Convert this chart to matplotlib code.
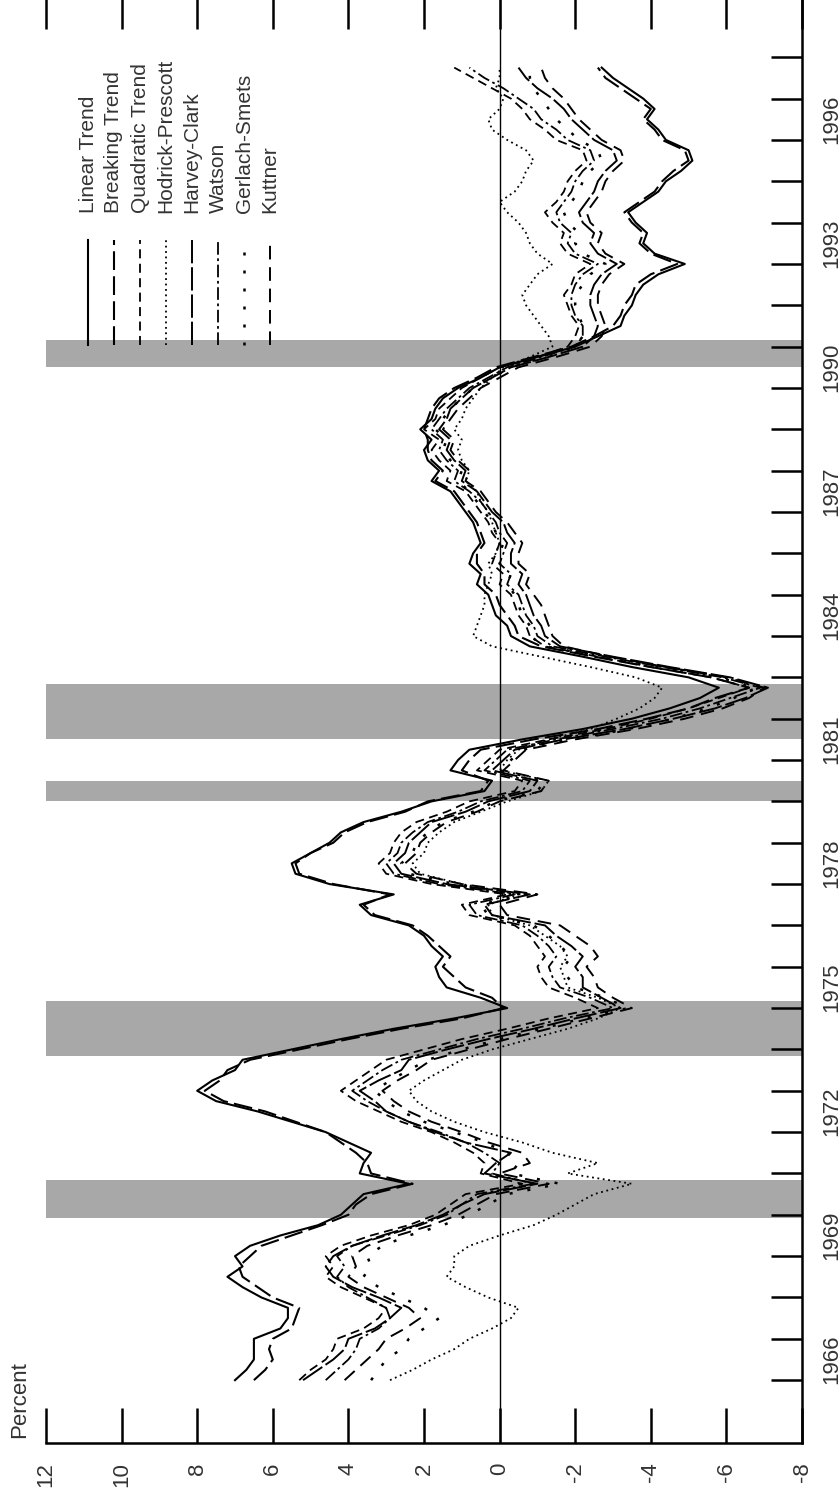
import matplotlib
matplotlib.use("Agg")
import matplotlib.pyplot as plt
from matplotlib.lines import Line2D
import numpy as np

plt.rcParams['font.family'] = ['Liberation Sans', 'DejaVu Sans']

dates = np.arange(1966.0, 1998.0, 0.25)

linear_trend = [
    7.0, 6.7, 6.5, 6.5,  6.5, 5.8, 5.6, 5.6,  6.3, 6.8, 7.2, 6.8,  7.0, 6.6, 5.8, 4.8,
    4.2, 3.9, 3.6, 2.4,  3.7, 3.6, 3.4, 4.0,  4.6, 5.5, 6.4, 7.5,  8.0, 7.6, 7.0, 6.8,
    5.5, 4.2, 2.8, 1.2,  -0.2, 0.5, 1.4, 1.6,  1.7, 1.5, 1.8, 2.0,  2.4, 3.4, 3.7, 2.8,
    4.5, 5.4, 5.5, 5.0,  4.5, 4.2, 3.6, 2.6,  1.8, 0.4, 0.2, 1.3,  1.1, 0.8, -0.6, -2.2,
    -3.5, -4.5, -5.3, -5.8,  -5.0, -3.5, -2.2, -0.8,  -0.3, -0.2, 0.1, 0.2,  0.3, 0.6, 0.5, 0.8,
    0.7, 0.5, 0.6, 0.7,  0.9, 1.1, 1.3, 1.8,  1.6, 1.9, 2.0, 1.8,  2.1, 1.8, 1.7, 1.5,
    1.1, 0.5, 0.0, -1.0,  -2.0, -2.6, -3.2, -3.3,  -3.5, -3.6, -3.8, -4.2,  -4.9, -4.1, -3.8, -3.9,
    -3.6, -3.4, -3.8, -4.2,  -4.4, -4.8, -5.1, -5.0,  -4.4, -4.2, -3.9, -4.1,  -3.8, -3.4, -3.0, -2.7]
breaking_trend = [
    6.5, 6.2, 6.0, 6.1,  6.0, 5.5, 5.4, 5.3,  6.0, 6.4, 6.8, 6.9,  6.6, 6.3, 5.5, 4.7,
    4.0, 3.8, 3.4, 2.3,  3.4, 3.5, 3.8, 4.2,  4.6, 5.4, 6.2, 7.3,  7.8, 7.4, 7.2, 6.6,
    5.3, 4.0, 2.6, 1.0,  -0.1, 0.2, 0.9, 1.2,  1.5, 1.3, 1.6, 1.9,  2.3, 3.3, 3.6, 2.9,
    4.4, 5.3, 5.4, 5.0,  4.4, 4.1, 3.5, 2.5,  1.9, 0.5, 0.3, 1.0,  0.8, 0.5, -0.9, -2.6,
    -3.9, -5.0, -5.7, -6.6,  -5.6, -4.0, -2.5, -1.1,  -0.5, -0.4, -0.2, 0.0,  0.1, 0.4, 0.4, 0.6,
    0.6, 0.4, 0.5, 0.6,  0.8, 1.0, 1.2, 1.7,  1.5, 1.8, 1.9, 1.9,  2.0, 1.9, 1.8, 1.6,
    1.2, 0.6, 0.1, -0.9,  -1.9, -2.5, -3.0, -3.2,  -3.3, -3.5, -3.6, -4.0,  -4.7, -4.0, -3.7, -3.8,
    -3.5, -3.3, -3.7, -4.1,  -4.3, -4.6, -5.0, -4.9,  -4.3, -4.1, -3.8, -4.0,  -3.6, -3.2, -2.8, -2.6]
quadratic_trend = [
    5.3, 5.0, 4.6, 4.4,  4.3, 3.6, 3.2, 3.0,  3.6, 4.2, 4.6, 4.4,  4.6, 4.2, 3.4, 2.4,
    1.7, 1.3, 0.9, -0.6,  0.5, 0.4, 0.7, 1.2,  1.8, 2.6, 3.2, 3.8,  4.2, 3.8, 3.4, 3.0,
    2.0, 1.0, -0.2, -1.3,  -2.6, -2.0, -1.3, -1.1,  -1.0, -1.2, -1.0, -0.8,  -0.4, 0.8, 1.0, -0.2,
    1.8, 3.0, 3.2, 2.9,  2.8, 2.6, 2.2, 1.4,  0.8, -0.4, -0.6, 0.6,  0.3, 0.0, -1.3, -2.8,
    -4.0, -5.0, -5.8, -6.6,  -5.6, -4.0, -2.6, -1.2,  -0.8, -0.7, -0.5, -0.4,  -0.3, 0.0, -0.1, 0.2,
    0.1, 0.0, 0.2, 0.3,  0.5, 0.7, 0.9, 1.4,  1.3, 1.6, 1.8, 1.6,  2.0, 1.7, 1.6, 1.3,
    1.0, 0.5, 0.0, -1.0,  -1.8, -2.0, -2.1, -1.9,  -1.8, -1.7, -1.9, -2.0,  -2.4, -1.8, -1.6, -1.7,
    -1.4, -1.2, -1.5, -1.7,  -1.8, -2.0, -2.3, -2.2,  -1.5, -1.2, -0.8, -0.6,  -0.3, 0.2, 0.7, 1.2]
hodrick_prescott = [
    2.9, 2.3, 1.8, 1.2,  0.8, 0.2, -0.3, -0.5,  0.3, 0.9, 1.4, 1.2,  1.2, 0.8, 0.0, -0.9,
    -1.5, -2.0, -2.5, -3.5,  -1.8, -2.6, -1.4, -0.6,  0.4, 1.2, 1.8, 2.2,  2.4, 2.0, 1.5, 1.0,
    0.2, -0.8, -1.8, -2.6,  -3.2, -2.6, -1.8, -1.7,  -1.6, -1.8, -1.6, -1.2,  -0.8, 0.2, 0.3, -0.5,
    1.0, 2.1, 2.3, 2.0,  1.9, 1.6, 1.2, 0.5,  -0.2, -1.1, -1.3, 0.0,  -0.2, -0.5, -1.3, -2.4,
    -3.1, -3.7, -4.1, -4.3,  -3.6, -2.4, -1.1, 0.2,  0.7, 0.6, 0.5, 0.4,  0.4, 0.3, 0.2, 0.3,
    0.1, 0.0, 0.1, 0.2,  0.3, 0.5, 0.6, 0.9,  0.8, 1.0, 1.1, 1.0,  1.2, 1.0, 0.9, 0.7,
    0.5, 0.2, -0.1, -0.8,  -1.4, -1.3, -1.1, -0.9,  -0.7, -0.6, -0.8, -1.0,  -1.4, -1.0, -0.8, -0.7,
    -0.5, -0.2, 0.0, -0.4,  -0.6, -0.7, -0.9, -0.7,  -0.2, 0.2, 0.3, 0.0,  -0.1, 0.1, 0.0, 0.0]
harvey_clark = [
    5.2, 4.8, 4.4, 4.1,  4.0, 3.3, 2.9, 2.6,  3.2, 3.9, 4.4, 4.6,  4.4, 3.9, 3.1, 2.2,
    1.5, 1.0, 0.4, -1.0,  0.4, 0.1, -0.3, 0.9,  1.7, 2.4, 3.0, 3.3,  3.7, 3.2, 2.6, 2.4,
    1.4, 0.3, -0.9, -2.0,  -3.2, -2.7, -2.2, -2.2,  -2.0, -2.2, -1.9, -1.5,  -1.2, 0.2, 0.4, -0.8,
    1.4, 2.6, 2.8, 2.5,  2.4, 2.1, 1.8, 0.9,  0.3, -0.8, -1.0, 0.2,  -0.1, -0.4, -1.7, -3.3,
    -4.6, -5.7, -6.5, -7.1,  -6.1, -4.5, -3.0, -1.6,  -1.2, -1.1, -0.9, -0.8,  -0.7, -0.5, -0.6, -0.3,
    -0.3, -0.4, -0.2, -0.1,  0.2, 0.4, 0.6, 1.0,  0.9, 1.2, 1.4, 1.3,  1.6, 1.4, 1.3, 1.0,
    0.7, 0.2, -0.3, -1.3,  -2.2, -2.5, -2.6, -2.5,  -2.4, -2.4, -2.5, -2.7,  -3.1, -2.6, -2.4, -2.5,
    -2.2, -2.1, -2.3, -2.5,  -2.6, -2.8, -3.1, -3.0,  -2.5, -2.2, -1.9, -1.7,  -1.4, -1.0, -0.7, -0.5]
watson = [
    4.6, 4.3, 4.0, 3.8,  3.7, 3.2, 2.9, 3.0,  3.5, 4.0, 4.3, 4.1,  4.3, 3.9, 3.0, 2.1,
    1.4, 1.0, 0.6, -0.9,  0.2, 0.0, 0.4, 0.9,  1.6, 2.4, 3.0, 3.5,  3.9, 3.5, 3.1, 2.6,
    1.6, 0.6, -0.6, -1.7,  -3.0, -2.4, -1.6, -1.4,  -1.3, -1.5, -1.3, -1.0,  -0.6, 0.6, 0.8, -0.4,
    1.6, 2.8, 3.0, 2.7,  2.6, 2.3, 1.9, 1.1,  0.5, -0.6, -0.8, 0.4,  0.1, -0.2, -1.5, -3.0,
    -4.3, -5.3, -6.1, -6.9,  -5.9, -4.3, -2.8, -1.4,  -1.0, -0.9, -0.7, -0.6,  -0.5, -0.2, -0.3, 0.0,
    -0.1, -0.2, 0.0, 0.1,  0.3, 0.5, 0.8, 1.2,  1.1, 1.4, 1.6, 1.5,  1.8, 1.6, 1.4, 1.1,
    0.8, 0.3, -0.2, -1.1,  -2.0, -2.2, -2.2, -2.0,  -1.9, -1.9, -2.0, -2.2,  -2.6, -2.0, -1.8, -1.9,
    -1.6, -1.5, -1.7, -1.9,  -2.0, -2.2, -2.5, -2.4,  -1.8, -1.5, -1.1, -0.9,  -0.5, -0.1, 0.4, 0.8]
gerlach_smets = [
    3.4, 3.2, 3.0, 2.6,  2.4, 2.0, 1.6, 2.0,  2.6, 3.2, 3.6, 3.4,  3.5, 3.1, 2.4, 1.5,
    0.8, 0.3, -0.2, -1.6,  -0.3, -0.5, -0.2, 0.4,  1.2, 2.0, 2.6, 3.0,  3.3, 2.9, 2.4, 1.9,
    1.0, 0.0, -1.1, -2.2,  -3.4, -2.8, -2.0, -1.8,  -1.7, -1.9, -1.6, -1.3,  -0.9, 0.3, 0.5, -0.6,
    1.2, 2.4, 2.6, 2.3,  2.2, 1.9, 1.5, 0.7,  0.1, -1.0, -1.2, 0.0,  -0.3, -0.6, -1.9, -3.4,
    -4.6, -5.5, -6.2, -6.8,  -5.8, -4.2, -2.7, -1.2,  -0.8, -0.8, -0.6, -0.5,  -0.4, -0.2, -0.3, 0.0,
    0.0, -0.1, 0.1, 0.2,  0.4, 0.6, 0.8, 1.1,  1.0, 1.3, 1.5, 1.4,  1.7, 1.5, 1.3, 1.0,
    0.7, 0.2, -0.3, -1.2,  -2.0, -2.2, -2.2, -2.1,  -2.0, -2.0, -2.2, -2.4,  -2.8, -2.2, -2.0, -2.1,
    -1.8, -1.7, -1.9, -2.1,  -2.2, -2.4, -2.7, -2.6,  -2.1, -1.8, -1.5, -1.3,  -1.1, -0.9, -0.8, -0.8]
kuttner = [
    4.1, 3.8, 3.5, 3.2,  3.0, 2.5, 2.1, 2.4,  3.0, 3.6, 4.0, 3.8,  3.9, 3.5, 2.7, 1.8,
    1.1, 0.6, 0.1, -1.3,  0.0, -0.8, -0.6, 0.3,  1.0, 1.8, 2.4, 2.8,  3.1, 2.7, 2.2, 1.8,
    0.8, -0.2, -1.3, -2.4,  -3.5, -3.0, -2.6, -2.5,  -2.3, -2.6, -2.4, -2.0,  -1.6, -0.2, 0.0, -1.0,
    1.0, 2.2, 2.5, 2.2,  2.1, 1.8, 1.4, 0.6,  0.0, -1.1, -1.3, -0.1,  -0.4, -0.7, -2.0, -3.6,
    -4.9, -5.9, -6.6, -7.0,  -6.0, -4.4, -2.9, -1.7,  -1.4, -1.3, -1.2, -1.1,  -0.9, -0.7, -0.8, -0.5,
    -0.5, -0.6, -0.4, -0.2,  0.1, 0.3, 0.5, 0.9,  0.8, 1.1, 1.3, 1.2,  1.5, 1.3, 1.1, 0.8,
    0.5, 0.0, -0.5, -1.5,  -2.4, -2.7, -2.8, -2.7,  -2.6, -2.6, -2.7, -2.9,  -3.3, -2.8, -2.6, -2.7,
    -2.4, -2.3, -2.5, -2.7,  -2.8, -3.0, -3.3, -3.2,  -2.7, -2.4, -2.1, -1.9,  -1.7, -1.4, -1.2, -1.1]

series_names = ['Linear Trend', 'Breaking Trend', 'Quadratic Trend', 'Hodrick-Prescott',
                'Harvey-Clark', 'Watson', 'Gerlach-Smets', 'Kuttner']
series_values = [linear_trend, breaking_trend, quadratic_trend, hodrick_prescott,
                 harvey_clark, watson, gerlach_smets, kuttner]
series_styles = [
    dict(ls='-', lw=1.5),
    dict(ls=(0, (9, 3)), lw=1.5),
    dict(ls=(0, (5, 3)), lw=1.3),
    dict(ls=(0, (1, 2)), lw=1.3),
    dict(ls=(0, (12, 2)), lw=1.4),
    dict(ls=(0, (7, 2, 1.5, 2)), lw=1.3),
    dict(ls=(0, (1.2, 6)), lw=1.8),
    dict(ls=(0, (7, 4)), lw=1.4),
]

recessions = [(1969.92, 1970.83), (1973.83, 1975.17), (1980.0, 1980.5),
              (1981.5, 1982.83), (1990.5, 1991.17)]

W, H = 840, 1499
fig = plt.figure(figsize=(W / 100, H / 100), dpi=100)
# the whole chart is turned a quarter turn: percent runs across, time runs up
ax = fig.add_axes([46 / W, (H - 1443) / H, (802 - 46) / W, (1443 + 6) / H])

for r0, r1 in recessions:
    ax.axhspan(r0, r1, color='#a8a8a8', lw=0, zorder=0)
ax.axvline(0, color='black', lw=1.0, zorder=1)

for vals, st in zip(series_values, series_styles):
    ax.plot(vals, dates, color='black', zorder=2, **st)

ax.set_xlim(12, -8)
ax.set_ylim(1964.48, 1999.53)

for s in ['left', 'top']:
    ax.spines[s].set_visible(False)
ax.spines['bottom'].set_linewidth(1.8)
ax.spines['right'].set_linewidth(1.8)

pct_ticks = np.arange(-8, 13, 2)
ax.set_xticks(pct_ticks)
ax.set_xticklabels([str(v) for v in pct_ticks], rotation=90, fontsize=16, color='#333333')
ax.tick_params(axis='x', which='major', direction='in', length=25, width=1.8, pad=14,
               top=True, bottom=True)
ax.set_xticks([12], minor=True)
ax.tick_params(axis='x', which='minor', direction='in', length=50, width=1.8, top=True, bottom=True)

ax.yaxis.tick_right()
ax.set_yticks(np.arange(1966, 1999))
ax.set_yticklabels([])
ax.tick_params(axis='y', which='major', direction='in', length=22, width=1.8, right=True, left=False)
year_labels = np.arange(1966, 1997, 3)
ax.set_yticks(year_labels + 0.5, minor=True)
ax.set_yticklabels([str(y) for y in year_labels], minor=True,
                   rotation=90, va='center', fontsize=16, color='#333333')
ax.tick_params(axis='y', which='minor', length=0, pad=14, right=True, left=False)

fig.text(20 / W, 1 - 1400 / H, 'Percent', rotation=90, ha='center', va='center',
         fontsize=16, color='#333333')

# legend, drawn by hand because it is turned as well
for i, (name, st) in enumerate(zip(series_names, series_styles)):
    x = (88 + 26 * i) / W
    fig.add_artist(Line2D([x, x], [1 - 345 / H, 1 - 240 / H], color='black',
                          transform=fig.transFigure, **st))
    fig.text(x, 1 - 213 / H, name, rotation=90, ha='center', va='bottom',
             fontsize=15, color='#333333')

fig.savefig('out.png', dpi=100)
